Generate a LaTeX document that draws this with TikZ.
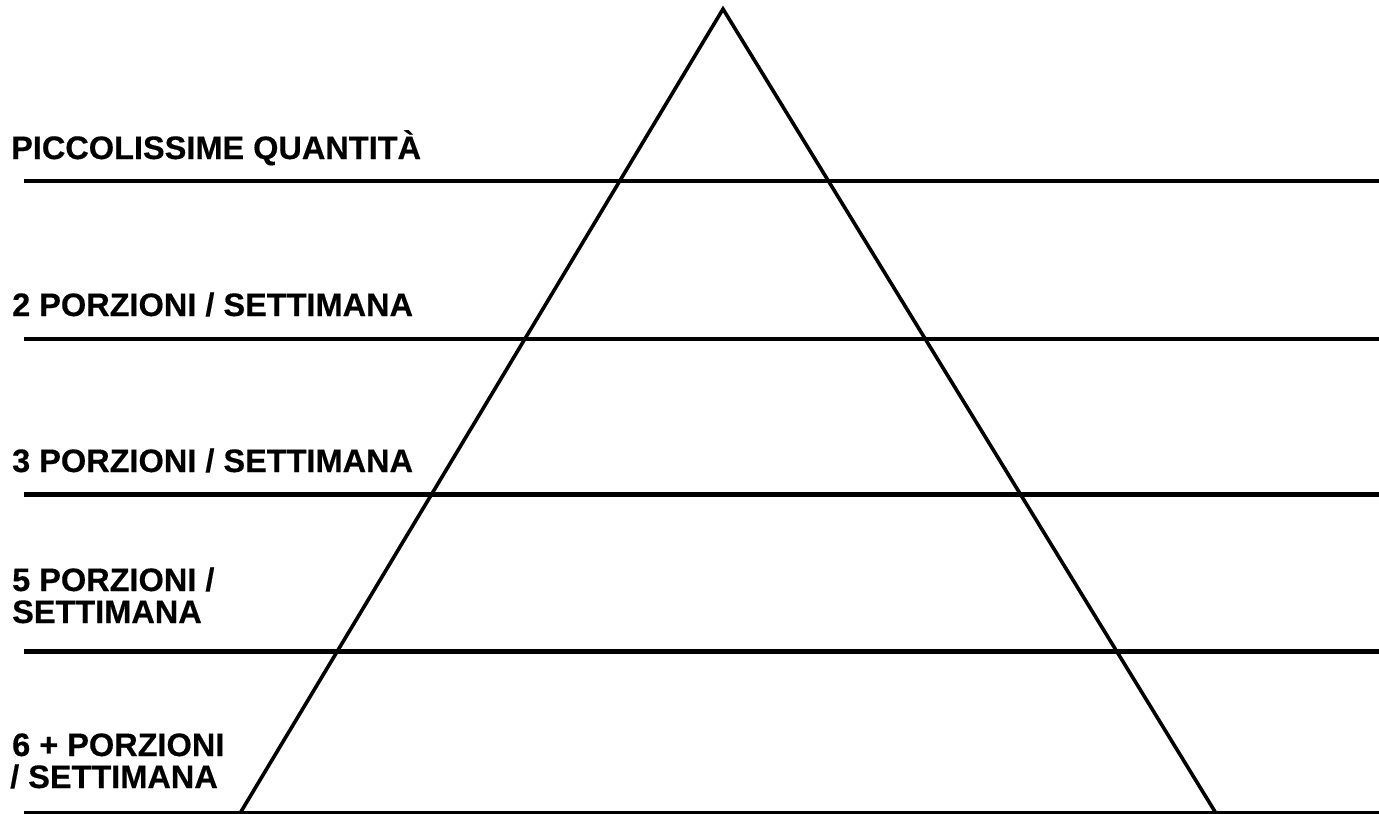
\documentclass[tikz,border=0pt]{standalone}
\usepackage{fontspec}
\setmainfont{Liberation Sans}
\newfontfamily\labelfont{Liberation Sans}[UprightFont=*-Bold,FakeBold=0.4]
\begin{document}
\begin{tikzpicture}[x=1pt,y=-1pt,
  label/.style={anchor=base west,inner sep=0pt,align=left,
    font=\labelfont\fontsize{32.5}{32.5}\selectfont},
  hline/.style={line width=4.2pt},
  edge/.style={line width=3.6pt,line join=miter}]
\useasboundingbox (0,0) rectangle (1379,814);
% triangle vertices
\coordinate (apex) at (723,9);
\coordinate (bl) at (240.5,812.5);
\coordinate (br) at (1215.5,812.5);
% horizontal line ends
\coordinate (l1a) at (24,181); \coordinate (l1b) at (1379,181);
\coordinate (l2a) at (24,339); \coordinate (l2b) at (1379,339);
\coordinate (l3a) at (24,494.5); \coordinate (l3b) at (1379,494.5);
\coordinate (l4a) at (24,651.5); \coordinate (l4b) at (1379,651.5);
\coordinate (l5a) at (24,813); \coordinate (l5b) at (1379,813);
\draw[hline] (l1a) -- (l1b);
\draw[hline] (l2a) -- (l2b);
\draw[hline] (l3a) -- (l3b);
\draw[hline] (l4a) -- (l4b);
\draw[hline] (l5a) -- (l5b);
\draw[edge] (bl) -- (apex) -- (br);
% labels
\node[label] (t1) at (11,159) {PICCOLISSIME QUANTITÀ};
\node[label] (t2) at (12,316) {2 PORZIONI / SETTIMANA};
\node[label] (t3) at (12,472) {3 PORZIONI / SETTIMANA};
\node[label] (t4a) at (12,591) {5 PORZIONI /};
\node[label] (t4b) at (12,623) {SETTIMANA};
\node[label] (t5a) at (12,756) {6 + PORZIONI};
\node[label] (t5b) at (10,788) {/ SETTIMANA};
\end{tikzpicture}
\end{document}
